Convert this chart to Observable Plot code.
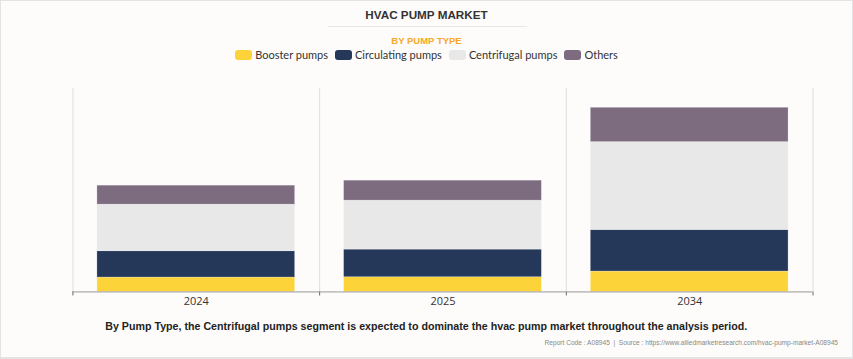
<!DOCTYPE html>
<html>
<head>
<meta charset="utf-8">
<script src="https://cdn.jsdelivr.net/npm/d3@7"></script>
<script src="https://cdn.jsdelivr.net/npm/@observablehq/plot@0.6"></script>
<style>
  html, body { margin: 0; padding: 0; }
  body { width: 853px; height: 359px; overflow: hidden; background: #fff; }
  #page { position: relative; width: 851px; height: 356px; border: 1px solid #e4e4e4; border-bottom-width: 2px; background: #fdfcfa; font-family: "Liberation Sans", Arial, sans-serif; }
  #title { position: absolute; top: 7px; left: 0; width: 100%; text-align: center; font-weight: bold; font-size: 11.7px; color: #333; }
  #rule { position: absolute; top: 25px; left: 327px; width: 199px; height: 1px; background: #e8e8e8; }
  #subtitle { position: absolute; top: 34px; left: 0; width: 100%; text-align: center; font-weight: bold; font-size: 9.5px; color: #f8a826; }
  #legend { position: absolute; top: 47px; left: 0; width: 100%; display: flex; justify-content: center; font-family: Lato, "Open Sans", sans-serif; font-size: 11px; color: #333; }
  .item { display: flex; align-items: center; margin: 0 3.5px; }
  .sw { width: 17px; height: 10px; border-radius: 3px; margin-right: 3px; }
  #chart { position: absolute; top: 70px; left: -1px; }
  #caption { position: absolute; top: 315px; left: 0; width: 100%; text-align: center; }
  #caption span { display: inline-block; font-weight: bold; font-size: 11.5px; color: #222; transform: scaleX(0.927); }
  #source { position: absolute; top: 338px; right: 14px; font-size: 6.6px; color: #888; }
</style>
</head>
<body>
<div id="page">
  <div id="title">HVAC PUMP MARKET</div>
  <div id="rule"></div>
  <div id="subtitle">BY PUMP TYPE</div>
  <div id="legend"></div>
  <div id="chart"></div>
  <div id="caption"><span>By Pump Type, the Centrifugal pumps segment is expected to dominate the hvac pump market throughout the analysis period.</span></div>
  <div id="source">Report Code : A08945 &nbsp;|&nbsp; Source : https://www.alliedmarketresearch.com/hvac-pump-market-A08945</div>
</div>
<script>
const years = ["2024", "2025", "2034"];
const pumpTypes = ["Booster pumps", "Circulating pumps", "Centrifugal pumps", "Others"];
const colors = ["#fdd33a", "#263859", "#e8e8e8", "#7d6c80"];
const booster = [1.44, 1.47, 2.04];
const circulating = [2.63, 2.77, 4.16];
const centrifugal = [4.67, 4.90, 8.80];
const others = [1.90, 2.00, 3.44];

const series = [booster, circulating, centrifugal, others];
const data = [];
years.forEach((y, i) => pumpTypes.forEach((t, j) => data.push({year: y, type: t, value: series[j][i]})));

// legend
const legend = document.getElementById("legend");
pumpTypes.forEach((t, j) => {
  const it = document.createElement("div");
  it.className = "item";
  it.innerHTML = `<div class="sw" style="background:${colors[j]}"></div><span>${t}</span>`;
  legend.appendChild(it);
});

const W = 853, H = 240, mL = 72, mR = 40, mT = 17, mB = 19.3;
const step = (W - mL - mR) / years.length;
const edges = years.map(y => ({year: y, dx: -step / 2})).concat([{year: years[years.length - 1], dx: step / 2}]);

const chart = Plot.plot({
  width: W, height: H,
  marginLeft: mL, marginRight: mR, marginTop: mT, marginBottom: mB,
  style: {background: "transparent", fontFamily: "'Open Sans', sans-serif", fontSize: "11px", color: "#333"},
  x: {domain: years, paddingInner: 0.2, paddingOuter: 0.1, label: null},
  y: {domain: [0, 20.37], axis: null},
  color: {domain: pumpTypes, range: colors},
  marks: [
    ...edges.map(e => Plot.ruleX([e.year], {dx: e.dx, stroke: "#dedede", strokeWidth: 1})),
    ...edges.map(e => Plot.ruleX([e.year], {dx: e.dx, y1: 0, y2: 0, insetBottom: -4, stroke: "#666", strokeWidth: 1})),
    Plot.barY(data, {x: "year", y: "value", fill: "type", order: pumpTypes, stroke: "#fff", strokeOpacity: 0.4, strokeWidth: 0.6}),
    Plot.ruleY([0], {stroke: "#999", strokeWidth: 1}),
    Plot.axisX({tickSize: 0, tickPadding: 5, fontSize: 11, fill: "#333"})
  ]
});
document.getElementById("chart").appendChild(chart);
</script>
</body>
</html>
